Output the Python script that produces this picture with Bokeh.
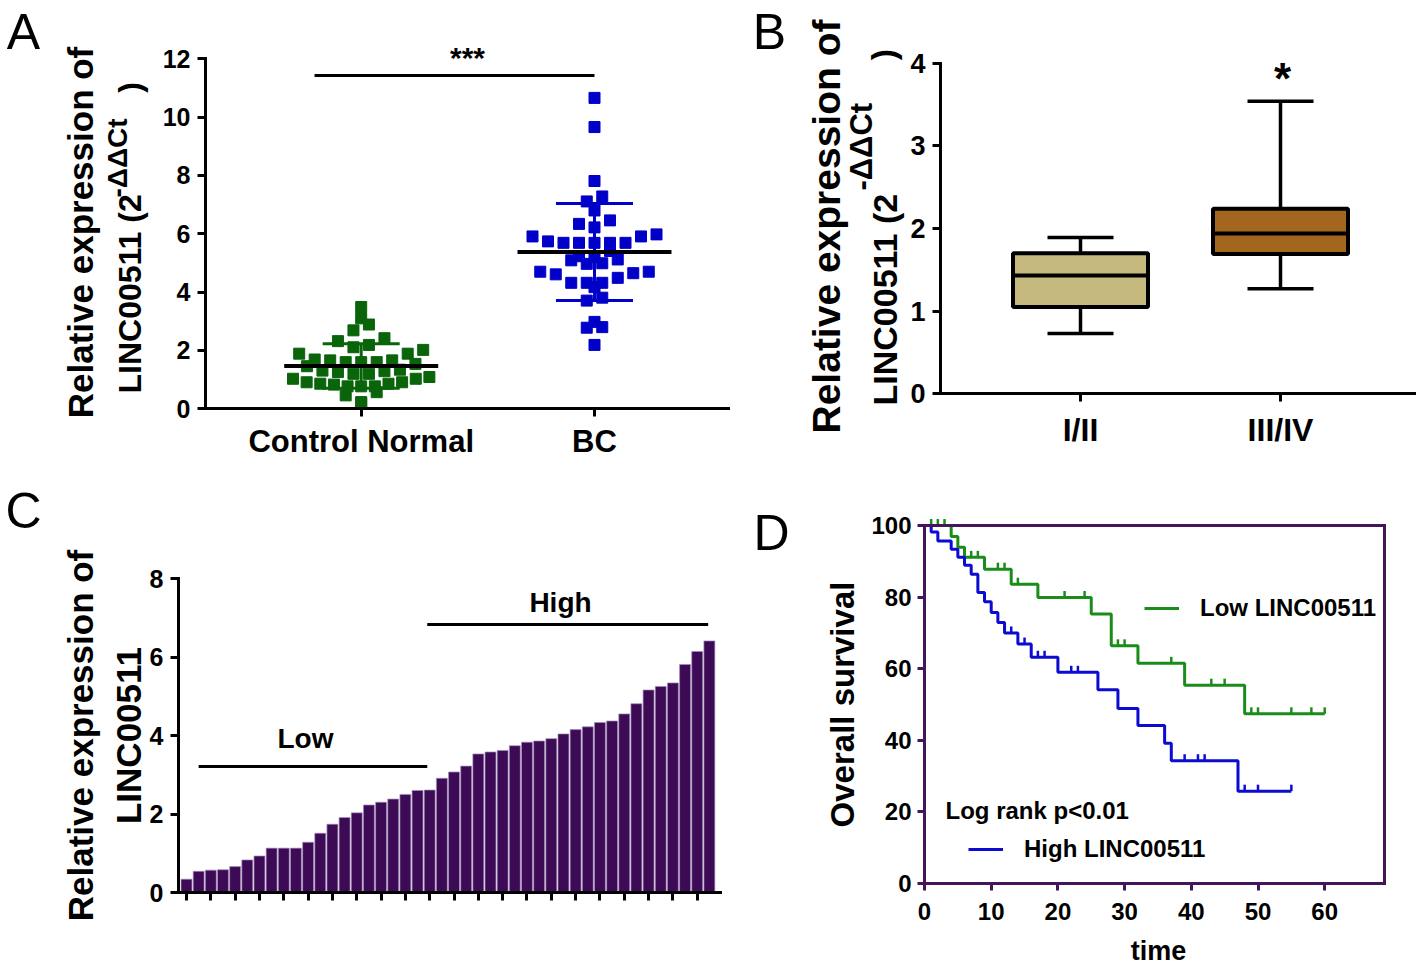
import numpy as np
from bokeh.plotting import figure
from bokeh.models import Label, FixedTicker, Range1d, Legend, LegendItem, LinearAxis
from bokeh.layouts import column, row
from bokeh.embed import file_html
from bokeh.resources import INLINE

FONT = "Liberation Sans"

# ---------------- data ----------------
# Panel A: relative expression, scatter (mean +/- SD)
a_categories = ["Control Normal", "BC"]
a_control = [3.49, 3.10, 2.89, 2.69, 2.42, 2.32, 2.19, 2.11, 2.02, 1.89,
             1.89, 1.66, 1.60, 1.60, 1.54, 1.60, 1.66, 1.69, 1.46, 1.31,
             1.34, 1.26, 1.20, 1.29, 1.20, 1.03, 1.09, 0.91, 0.83, 0.86,
             0.91, 0.86, 0.46, 0.57, 0.19, 0.23, 1.03, 0.77, 0.77, 0.77]
a_bc = [10.66, 9.66, 7.81, 7.28, 7.11, 6.80, 6.46, 6.34, 6.22, 5.98,
        5.91, 5.91, 5.74, 5.69, 5.69, 5.69, 5.69, 5.69, 5.41, 5.20,
        5.23, 5.09, 5.12, 4.97, 4.99, 4.70, 4.65, 4.70, 4.61, 4.49,
        4.32, 4.32, 4.32, 4.17, 3.71, 3.81, 2.98, 2.78, 2.80, 2.19]
a_yticks = [0, 2, 4, 6, 8, 10, 12]

# Panel B: box plot by stage
b_categories = ["I/II", "III/IV"]
b_min = [0.73, 1.27]
b_q1 = [1.05, 1.69]
b_median = [1.43, 1.94]
b_q3 = [1.70, 2.24]
b_max = [1.89, 3.54]
b_yticks = [0, 1, 2, 3, 4]

# Panel C: sorted expression per patient
c_values = [0.34, 0.54, 0.57, 0.58, 0.66, 0.83, 0.93, 1.13, 1.13, 1.13,
            1.28, 1.51, 1.74, 1.91, 2.03, 2.23, 2.30, 2.38, 2.50, 2.60,
            2.61, 2.91, 3.07, 3.22, 3.53, 3.58, 3.62, 3.74, 3.83, 3.86,
            3.92, 4.04, 4.15, 4.22, 4.33, 4.37, 4.55, 4.81, 5.16, 5.25,
            5.34, 5.81, 6.14, 6.41]
c_yticks = [0, 2, 4, 6, 8]
c_low_level = 3.21
c_high_level = 6.83

# Panel D: Kaplan-Meier curves (time of step, survival after step)
low_time = [0, 4, 5, 6, 9, 13, 17, 25, 28, 32, 39, 48]
low_surv = [100, 96.9, 93.9, 91.1, 87.8, 83.6, 79.9, 75.3, 66.4, 61.5, 55.4, 47.4]
low_end = 60
low_censor = [1, 2, 3, 7, 8, 11, 12, 14, 21, 24, 29, 30, 37, 43, 45, 49, 50, 55, 58, 60]
high_time = [0, 1, 2, 4, 5, 6, 7, 8, 9, 10, 11, 12, 14, 16, 20, 26, 29, 32, 36, 37, 47]
high_surv = [100, 98.2, 95.7, 93.4, 91.1, 88.9, 86.4, 81.3, 78.7, 75.7, 72.9, 70.0,
             66.9, 63.2, 59.0, 54.1, 48.9, 44.1, 39.2, 34.3, 25.8]
high_end = 55
high_censor = [13, 15, 17, 18, 22, 23, 39, 41, 42, 48, 50, 55]
d_xticks = [0, 10, 20, 30, 40, 50, 60]
d_yticks = [0, 20, 40, 60, 80, 100]

# ---------------- layout geometry (page pixels) ----------------
W_LEFT, W_RIGHT = 745, 671
H_TOP, H_BOT = 478, 490
PI2 = np.pi / 2


class Panel:
    """A figure whose frame fills its canvas; page pixels <-> data mapping."""

    def __init__(self, left, top, w, h, xref, yref):
        self.left, self.top, self.w, self.h = left, top, w, h
        pxa, dxa, pxb, dxb = xref
        pya, dya, pyb, dyb = yref
        self.sx = (dxb - dxa) / (pxb - pxa)
        self.sy = (dyb - dya) / (pyb - pya)
        self.X = lambda px: dxa + (px - pxa) * self.sx
        self.Y = lambda py: dya + (py - pya) * self.sy
        self.p = figure(width=w, height=h,
                        x_range=Range1d(self.X(left), self.X(left + w)),
                        y_range=Range1d(self.Y(top + h), self.Y(top)),
                        output_backend="svg", toolbar_location=None,
                        min_border_left=0, min_border_right=0,
                        min_border_top=0, min_border_bottom=0)
        p = self.p
        p.outline_line_color = None
        p.xgrid.grid_line_color = None
        p.ygrid.grid_line_color = None

    def label(self, px, py, text, size, angle=0.0, align="center",
              baseline="middle", style="bold", color="black"):
        self.p.add_layout(Label(x=px - self.left, y=(self.top + self.h) - py,
                                x_units="screen", y_units="screen", text=text,
                                angle=angle, text_align=align, text_baseline=baseline,
                                text_font=FONT, text_font_style=style,
                                text_font_size=size, text_color=color))


def style_axis(ax, color="black", lw=3, size="25px", tick_out=8, standoff=8):
    ax.axis_line_color = color
    ax.axis_line_width = lw
    ax.axis_line_cap = "square"
    ax.major_tick_line_color = color
    ax.major_tick_line_width = lw
    ax.major_tick_out = tick_out
    ax.major_tick_in = 0
    ax.minor_tick_line_color = None
    ax.major_label_text_font = FONT
    ax.major_label_text_font_style = "bold"
    ax.major_label_text_font_size = size
    ax.major_label_text_color = "black"
    ax.major_label_standoff = standoff


def swarm(vals, center, ppu_y, ppu_x, bin_h=0.45, dx=15.5, maxw=150.0):
    vals = np.asarray(vals, dtype=float)
    xs = np.full(len(vals), float(center))
    bins = {}
    for i, v in enumerate(vals):
        bins.setdefault(int(round(v / bin_h)), []).append(i)
    for members in bins.values():
        members = sorted(members, key=lambda i: vals[i])
        n = len(members)
        step = min(dx, maxw / max(n, 1))
        slots = sorted(range(n), key=lambda k: abs(k - (n - 1) / 2))
        for i, k in zip(members, slots):
            xs[i] = center + (k - (n - 1) / 2) * step / ppu_x
    return xs


# ================= Panel A =================
A = Panel(0, 0, W_LEFT, H_TOP, (360.7, 1, 594.0, 2), (408.3, 0, 58.3, 12))
pA = A.p
ax_x0, ax_x1 = A.X(205), A.X(727.5)
pA.yaxis[0].fixed_location = ax_x0
pA.yaxis[0].bounds = (a_yticks[0], a_yticks[-1])
pA.xaxis[0].fixed_location = 0
pA.xaxis[0].bounds = (ax_x0, ax_x1)
style_axis(pA.yaxis[0], size="25px", standoff=7)
style_axis(pA.xaxis[0], size="31px", standoff=7)
pA.yaxis.ticker = FixedTicker(ticks=a_yticks)
pA.xaxis.ticker = FixedTicker(ticks=[1, 2])
pA.xaxis.major_label_overrides = {1: a_categories[0], 2: a_categories[1]}

a_colors = ["#0a640a", "#0000c8"]
for gi, (vals, col) in enumerate(zip([a_control, a_bc], a_colors)):
    cx = gi + 1
    xs = swarm(vals, cx, -1 / A.sy, 1 / A.sx)
    pA.scatter(xs, vals, marker="square", size=11, fill_color=col, line_color=col)
    m = float(np.mean(vals))
    sd = float(np.std(vals, ddof=1))
    pA.segment(x0=[cx], y0=[m - sd], x1=[cx], y1=[m + sd], line_color=col, line_width=3)
    pA.segment(x0=[cx - 0.165, cx - 0.165], y0=[m - sd, m + sd],
               x1=[cx + 0.165, cx + 0.165], y1=[m - sd, m + sd], line_color=col, line_width=3)
    pA.segment(x0=[cx - 0.33], y0=[m], x1=[cx + 0.33], y1=[m], line_color="black", line_width=4)

sig_y = 11.43
pA.segment(x0=[0.8], y0=[sig_y], x1=[2.0], y1=[sig_y], line_color="black", line_width=3)
A.label(467, 57, "***", "30px")
A.label(80, 232, "Relative expression of", "35px", angle=PI2)
A.label(129, 393, "LINC00511 (2", "32px", angle=PI2, align="left")
A.label(117, 197, "-ΔΔCt", "28px", angle=PI2, align="left")
A.label(129, 87, ")", "32px", angle=PI2)
A.label(23, 31, "A", "50px", style="normal")

# ================= Panel B =================
B = Panel(W_LEFT, 0, W_RIGHT, H_TOP, (1080, 1, 1280, 2), (393.3, 0, 62.7, 4))
pB = B.p
bx0, bx1 = B.X(940), B.X(1415)
pB.yaxis[0].fixed_location = bx0
pB.yaxis[0].bounds = (b_yticks[0], b_yticks[-1])
pB.xaxis[0].fixed_location = 0
pB.xaxis[0].bounds = (bx0, bx1)
style_axis(pB.yaxis[0], size="27px", standoff=7)
style_axis(pB.xaxis[0], size="32px", standoff=10)
pB.yaxis.ticker = FixedTicker(ticks=b_yticks)
pB.xaxis.ticker = FixedTicker(ticks=[1, 2])
pB.xaxis.major_label_overrides = {1: b_categories[0], 2: b_categories[1]}

bx = [1, 2]
b_fill = ["#c5b97d", "#a2661f"]
pB.segment(x0=bx, y0=b_q3, x1=bx, y1=b_max, line_color="black", line_width=3.5)
pB.segment(x0=bx, y0=b_min, x1=bx, y1=b_q1, line_color="black", line_width=3.5)
pB.segment(x0=[x - 0.165 for x in bx], y0=b_max, x1=[x + 0.165 for x in bx], y1=b_max,
           line_color="black", line_width=3.5)
pB.segment(x0=[x - 0.165 for x in bx], y0=b_min, x1=[x + 0.165 for x in bx], y1=b_min,
           line_color="black", line_width=3.5)
pB.vbar(x=bx, width=0.675, bottom=b_q1, top=b_q3, fill_color=b_fill,
        line_color="black", line_width=4)
pB.segment(x0=[x - 0.3375 for x in bx], y0=b_median, x1=[x + 0.3375 for x in bx], y1=b_median,
           line_color="black", line_width=4)
B.label(1282, 78, "*", "44px")
B.label(826, 226, "Relative expression of", "39px", angle=PI2)
B.label(884, 405, "LINC00511 (2", "34px", angle=PI2, align="left")
B.label(861, 190, "-ΔΔCt", "31px", angle=PI2, align="left")
B.label(882, 54, ")", "34px", angle=PI2)
B.label(769, 31, "B", "50px", style="normal")

# ================= Panel C =================
C = Panel(0, H_TOP, W_LEFT, H_BOT, (186, 1, 186 + 12.16, 2), (892, 0, 578, 8))
pC = C.p
n_c = len(c_values)
cx0, cx1 = C.X(178), C.X(720)
pC.yaxis[0].fixed_location = cx0
pC.yaxis[0].bounds = (c_yticks[0], c_yticks[-1])
pC.xaxis[0].fixed_location = 0
pC.xaxis[0].bounds = (cx0, cx1)
style_axis(pC.yaxis[0], size="25px", standoff=7)
style_axis(pC.xaxis[0], size="25px", standoff=8)
pC.yaxis.ticker = FixedTicker(ticks=c_yticks)
pC.xaxis.ticker = FixedTicker(ticks=list(range(1, n_c, 2)))
pC.xaxis.major_label_text_color = None
idx = list(range(1, n_c + 1))
pC.vbar(x=idx, top=c_values, width=0.9, fill_color="#3d0b55", line_color="#a58cbb",
        line_width=0.7)
pC.segment(x0=[2, 20.8], y0=[c_low_level, c_high_level],
           x1=[20.8, 43.9], y1=[c_low_level, c_high_level], line_color="black", line_width=3)
C.label(305, 738, "Low", "28px")
C.label(560, 602, "High", "28px")
C.label(80, 735, "Relative expression of", "35px", angle=PI2)
C.label(128, 735, "LINC00511", "35px", angle=PI2)
C.label(23, 510, "C", "50px", style="normal")

# ================= Panel D =================
D = Panel(W_LEFT, H_TOP, W_RIGHT, H_BOT, (924, 0, 990.7, 10), (883, 0, 525, 100))
pD = D.p
PURPLE = "#461458"
d_xmax = D.X(1384)
pD.yaxis[0].fixed_location = 0
pD.yaxis[0].bounds = (0, 100)
pD.xaxis[0].fixed_location = 0
pD.xaxis[0].bounds = (0, d_xmax)
style_axis(pD.yaxis[0], color=PURPLE, size="24px", tick_out=7, standoff=6)
style_axis(pD.xaxis[0], color=PURPLE, size="24px", tick_out=7, standoff=12)
pD.yaxis.ticker = FixedTicker(ticks=d_yticks)
pD.xaxis.ticker = FixedTicker(ticks=d_xticks)
top_ax = LinearAxis(fixed_location=100, bounds=(0, d_xmax), ticker=FixedTicker(ticks=[]))
right_ax = LinearAxis(fixed_location=d_xmax, bounds=(0, 100), ticker=FixedTicker(ticks=[]))
for ax in (top_ax, right_ax):
    style_axis(ax, color=PURPLE)
    ax.major_label_text_color = None
pD.add_layout(top_ax, "above")
pD.add_layout(right_ax, "right")


def km_at(times, surv, t):
    i = np.searchsorted(np.asarray(times), t, side="right") - 1
    return surv[max(i, 0)]


tick_up = 0.9
renders = {}
for name, times, surv, end, cens, col in [
        ("low", low_time, low_surv, low_end, low_censor, "#1a8c1a"),
        ("high", high_time, high_surv, high_end, high_censor, "#0b0bd1")]:
    xs = list(times) + [end]
    ys = list(surv) + [surv[-1]]
    ln = pD.step(xs, ys, mode="after", line_color=col, line_width=3)
    cy = [km_at(times, surv, t) + tick_up for t in cens]
    sc = pD.scatter(cens, cy, marker="dash", angle=PI2, size=6.5, line_color=col,
                    line_width=2.5)
    renders[name] = (ln, sc)

for name, label, (gx, gy) in [("low", "Low LINC00511", (1144, 607.7)),
                              ("high", "High LINC00511", (968, 849.3))]:
    loc = (gx - D.left, (D.top + D.h) - gy - 14)
    lg = Legend(items=[LegendItem(label=label, renderers=list(renders[name]))],
                location=loc, padding=0, margin=0, spacing=0,
                glyph_width=35, glyph_height=26, label_height=26,
                label_standoff=21, border_line_color=None,
                background_fill_alpha=0, label_text_font=FONT,
                label_text_font_style="bold", label_text_font_size="24px",
                label_text_color="black")
    pD.add_layout(lg)

D.label(945, 810, "Log rank p<0.01", "24px", align="left")
D.label(842, 704, "Overall survival", "33px", angle=PI2)
D.label(1158, 950, "time", "27px")
D.label(771, 532, "D", "50px", style="normal")

layout = column(row(pA, pB), row(pC, pD))
open("out.html", "w").write(file_html(layout, INLINE))
